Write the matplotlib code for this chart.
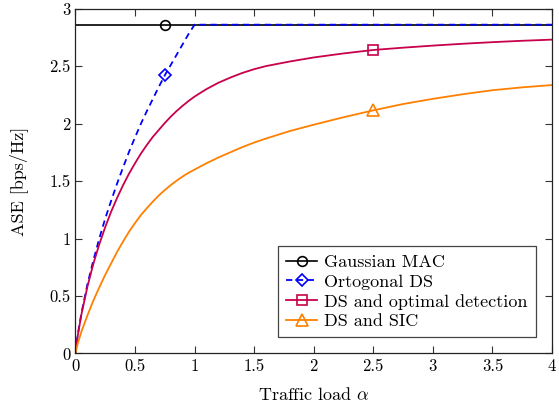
import matplotlib
matplotlib.use('Agg')
import matplotlib.pyplot as plt

plt.rcParams['font.family'] = ['cmr10', 'DejaVu Serif']
plt.rcParams['mathtext.fontset'] = 'cm'
plt.rcParams['axes.formatter.use_mathtext'] = True

# traffic load samples
alpha = [0, 0.01, 0.02, 0.05, 0.1, 0.15, 0.2, 0.25, 0.3, 0.35, 0.4, 0.45, 0.5,
         0.55, 0.6, 0.65, 0.7, 0.75, 0.8, 0.85, 0.9, 0.95, 1.0,
         1.1, 1.2, 1.3, 1.4, 1.5, 1.6, 1.8, 2.0, 2.25, 2.5, 2.75, 3.0, 3.25,
         3.5, 3.75, 4.0]

# Gaussian MAC (flat)
mac_x = [0, 0.75, 4.0]
mac_y = [2.86, 2.86, 2.86]

# orthogonal DS
orto_x = [0, 0.01, 0.02, 0.05, 0.1, 0.15, 0.2, 0.25, 0.3, 0.35, 0.4, 0.45, 0.5,
          0.55, 0.6, 0.65, 0.7, 0.75, 0.8, 0.85, 0.9, 0.95, 1.0, 4.0]
orto_y = [0, 0.09, 0.17, 0.35, 0.60, 0.81, 1.00, 1.175, 1.33, 1.48, 1.62, 1.755, 1.88,
          2.00, 2.11, 2.215, 2.32, 2.42, 2.51, 2.60, 2.69, 2.78, 2.86, 2.86]

# DS and optimal detection
opt_y = [0, 0.09, 0.16, 0.34, 0.58, 0.78, 0.95, 1.10, 1.235, 1.355, 1.465, 1.565, 1.655,
         1.74, 1.815, 1.885, 1.945, 2.005, 2.06, 2.11, 2.155, 2.197, 2.235,
         2.30, 2.355, 2.40, 2.44, 2.473, 2.50, 2.54, 2.575, 2.61, 2.64, 2.66, 2.678, 2.694,
         2.708, 2.72, 2.73]

# DS and SIC
sic_y = [0, 0.05, 0.09, 0.19, 0.33, 0.46, 0.575, 0.685, 0.785, 0.885, 0.975, 1.06, 1.135,
         1.205, 1.265, 1.322, 1.375, 1.422, 1.465, 1.504, 1.54, 1.572, 1.60,
         1.655, 1.705, 1.75, 1.795, 1.835, 1.87, 1.935, 1.99, 2.055, 2.115, 2.17, 2.215, 2.255,
         2.29, 2.315, 2.335]

red = '#C8004B'
orange = '#FF8000'

fig = plt.figure(figsize=(5.59, 4.09), dpi=100)
ax = fig.add_axes([0.135, 0.1357, 0.8525, 0.8433])

ax.plot(mac_x, mac_y, color='black', lw=1.2, marker='o', markevery=[1],
        markersize=7, markerfacecolor='none', markeredgewidth=1.2, label='Gaussian MAC')
ax.plot(orto_x, orto_y, color='#0000FF', lw=1.3, linestyle=(0, (3.5, 2.5)), marker='D',
        markevery=[17], markersize=6, markerfacecolor='none', markeredgewidth=1.2,
        label='Ortogonal DS')
ax.plot(alpha, opt_y, color=red, lw=1.3, marker='s', markevery=[32], markersize=7,
        markerfacecolor='none', markeredgewidth=1.2, label='DS and optimal detection')
ax.plot(alpha, sic_y, color=orange, lw=1.3, marker='^', markevery=[32], markersize=8,
        markerfacecolor='none', markeredgewidth=1.2, label='DS and SIC')

ax.set_xlim(0, 4)
ax.set_ylim(0, 3)
ax.set_xticks([0, 0.5, 1, 1.5, 2, 2.5, 3, 3.5, 4])
ax.set_xticklabels(['0', '0.5', '1', '1.5', '2', '2.5', '3', '3.5', '4'])
ax.set_yticks([0, 0.5, 1, 1.5, 2, 2.5, 3])
ax.set_yticklabels(['0', '0.5', '1', '1.5', '2', '2.5', '3'])
ax.tick_params(direction='in', top=True, right=True, length=5, width=0.8,
               labelsize=12, colors='#333333', labelcolor='black')
for s in ax.spines.values():
    s.set_linewidth(0.9)
    s.set_color('#222222')

ax.set_xlabel(r'Traffic load $\alpha$', fontsize=13, labelpad=9)
ax.set_ylabel('ASE [bps/Hz]', fontsize=13, labelpad=15)

leg = ax.legend(loc='lower right', fontsize=13, fancybox=False, framealpha=1,
                edgecolor='#444444', handlelength=1.7, handletextpad=0.4,
                borderpad=0.45, labelspacing=0.22, borderaxespad=0.9)
leg.get_frame().set_linewidth(0.9)

fig.savefig('out.png', dpi=100)
